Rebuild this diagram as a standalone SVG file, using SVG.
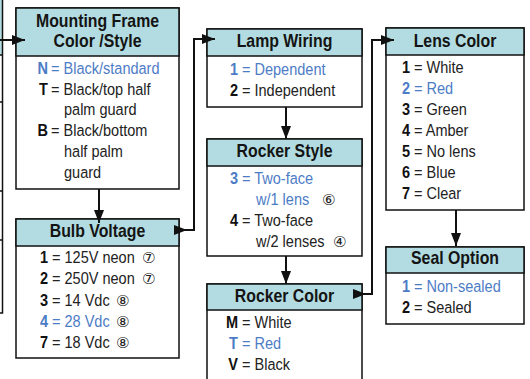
<svg xmlns="http://www.w3.org/2000/svg" width="530" height="379" viewBox="0 0 530 379">
<style>
.box{fill:#fff;stroke:#111;stroke-width:1.5}
.hd{fill:#b2dce1;stroke:#111;stroke-width:1.5}
.h{font:bold 18px "Liberation Sans",Arial,sans-serif;fill:#141414;text-anchor:middle}
.t{font:16.5px "Liberation Sans",Arial,sans-serif;fill:#222}
.k{font-weight:bold;text-anchor:end;fill:#111}
.b{fill:#4d7cc6}
.c{font:15px "DejaVu Sans",sans-serif;fill:#222}
.ln{fill:none;stroke:#111;stroke-width:2}
.thin{fill:none;stroke:#111;stroke-width:1.5}
</style>
<defs>
<marker id="ae" markerUnits="userSpaceOnUse" markerWidth="14" markerHeight="12" refX="13" refY="5" orient="auto"><path d="M0,0 L13,5 L0,10 Z" fill="#111"/></marker>
<marker id="as" markerUnits="userSpaceOnUse" markerWidth="14" markerHeight="12" refX="0" refY="5" orient="auto"><path d="M0,0 L13,5 L0,10 Z" fill="#111"/></marker>
</defs>

<g id="partial-left">
<rect x="0" y="0" width="2.5" height="55" fill="#b2dce1"/>
<path class="thin" d="M2.5,0 V313 H0 M0,55 H2.5 M0,102 H2.5 M0,191 H2.5 M0,240 H2.5"/>
</g>

<g id="mounting-frame">
<rect class="box" x="16" y="8" width="163" height="181"/>
<rect class="hd" x="16" y="8" width="163" height="48"/>
<text class="h" transform="matrix(.88 0 0 1 97.5 27)">Mounting Frame</text>
<text class="h" transform="matrix(.88 0 0 1 97.5 47)">Color /Style</text>
<text class="t k b" transform="matrix(.88 0 0 1 48 74)">N</text>
<text class="t b" transform="matrix(.88 0 0 1 51 74)">= Black/standard</text>
<text class="t k" transform="matrix(.88 0 0 1 48 95)">T</text>
<text class="t" transform="matrix(.88 0 0 1 51 95)">= Black/top half</text>
<text class="t" transform="matrix(.88 0 0 1 64 115)">palm guard</text>
<text class="t k" transform="matrix(.88 0 0 1 48 136)">B</text>
<text class="t" transform="matrix(.88 0 0 1 51 136)">= Black/bottom</text>
<text class="t" transform="matrix(.88 0 0 1 64 157)">half palm</text>
<text class="t" transform="matrix(.88 0 0 1 64 178)">guard</text>
</g>

<g id="bulb-voltage">
<rect class="box" x="16" y="219" width="163" height="139"/>
<rect class="hd" x="16" y="219" width="163" height="27"/>
<text class="h" transform="matrix(.88 0 0 1 97.5 237)">Bulb Voltage</text>
<text class="t k" transform="matrix(.88 0 0 1 48 263)">1</text>
<text class="t" transform="matrix(.88 0 0 1 52 263)">= 125V neon</text>
<text class="c" x="142" y="263">⑦</text>
<text class="t k" transform="matrix(.88 0 0 1 48 284)">2</text>
<text class="t" transform="matrix(.88 0 0 1 52 284)">= 250V neon</text>
<text class="c" x="142" y="284">⑦</text>
<text class="t k" transform="matrix(.88 0 0 1 48 306)">3</text>
<text class="t" transform="matrix(.88 0 0 1 52 306)">= 14 Vdc</text>
<text class="c" x="116" y="306">⑧</text>
<text class="t k b" transform="matrix(.88 0 0 1 48 327)">4</text>
<text class="t b" transform="matrix(.88 0 0 1 52 327)">= 28 Vdc</text>
<text class="c" x="116" y="327">⑧</text>
<text class="t k" transform="matrix(.88 0 0 1 48 348)">7</text>
<text class="t" transform="matrix(.88 0 0 1 52 348)">= 18 Vdc</text>
<text class="c" x="116" y="348">⑧</text>
</g>

<g id="lamp-wiring">
<rect class="box" x="207" y="29" width="155" height="78"/>
<rect class="hd" x="207" y="29" width="155" height="27"/>
<text class="h" transform="matrix(.88 0 0 1 284.5 47)">Lamp Wiring</text>
<text class="t k b" transform="matrix(.88 0 0 1 238 75)">1</text>
<text class="t b" transform="matrix(.88 0 0 1 242 75)">= Dependent</text>
<text class="t k" transform="matrix(.88 0 0 1 238 96)">2</text>
<text class="t" transform="matrix(.88 0 0 1 242 96)">= Independent</text>
</g>

<g id="rocker-style">
<rect class="box" x="207" y="139" width="155" height="117"/>
<rect class="hd" x="207" y="139" width="155" height="27"/>
<text class="h" transform="matrix(.88 0 0 1 284.5 157)">Rocker Style</text>
<text class="t k b" transform="matrix(.88 0 0 1 238 184)">3</text>
<text class="t b" transform="matrix(.88 0 0 1 242 184)">= Two-face</text>
<text class="t b" transform="matrix(.88 0 0 1 256 205)">w/1 lens</text>
<text class="c" x="322" y="205">⑥</text>
<text class="t k" transform="matrix(.88 0 0 1 238 226)">4</text>
<text class="t" transform="matrix(.88 0 0 1 242 226)">= Two-face</text>
<text class="t" transform="matrix(.88 0 0 1 256 247)">w/2 lenses</text>
<text class="c" x="333" y="247">④</text>
</g>

<g id="rocker-color">
<rect class="box" x="207" y="284" width="155" height="100"/>
<rect class="hd" x="207" y="284" width="155" height="26"/>
<text class="h" transform="matrix(.88 0 0 1 284.5 302)">Rocker Color</text>
<text class="t k" transform="matrix(.88 0 0 1 238 328)">M</text>
<text class="t" transform="matrix(.88 0 0 1 242 328)">= White</text>
<text class="t k b" transform="matrix(.88 0 0 1 238 349)">T</text>
<text class="t b" transform="matrix(.88 0 0 1 242 349)">= Red</text>
<text class="t k" transform="matrix(.88 0 0 1 238 370)">V</text>
<text class="t" transform="matrix(.88 0 0 1 242 370)">= Black</text>
</g>

<g id="lens-color">
<rect class="box" x="386" y="28" width="138" height="182"/>
<rect class="hd" x="386" y="28" width="138" height="27"/>
<text class="h" transform="matrix(.88 0 0 1 455 47)">Lens Color</text>
<text class="t k" transform="matrix(.88 0 0 1 410 73)">1</text>
<text class="t" transform="matrix(.88 0 0 1 414 73)">= White</text>
<text class="t k b" transform="matrix(.88 0 0 1 410 94)">2</text>
<text class="t b" transform="matrix(.88 0 0 1 414 94)">= Red</text>
<text class="t k" transform="matrix(.88 0 0 1 410 115)">3</text>
<text class="t" transform="matrix(.88 0 0 1 414 115)">= Green</text>
<text class="t k" transform="matrix(.88 0 0 1 410 136)">4</text>
<text class="t" transform="matrix(.88 0 0 1 414 136)">= Amber</text>
<text class="t k" transform="matrix(.88 0 0 1 410 157)">5</text>
<text class="t" transform="matrix(.88 0 0 1 414 157)">= No lens</text>
<text class="t k" transform="matrix(.88 0 0 1 410 178)">6</text>
<text class="t" transform="matrix(.88 0 0 1 414 178)">= Blue</text>
<text class="t k" transform="matrix(.88 0 0 1 410 199)">7</text>
<text class="t" transform="matrix(.88 0 0 1 414 199)">= Clear</text>
</g>

<g id="seal-option">
<rect class="box" x="386" y="247" width="138" height="77"/>
<rect class="hd" x="386" y="247" width="138" height="26"/>
<text class="h" transform="matrix(.88 0 0 1 455 264)">Seal Option</text>
<text class="t k b" transform="matrix(.88 0 0 1 410 292)">1</text>
<text class="t b" transform="matrix(.88 0 0 1 414 292)">= Non-sealed</text>
<text class="t k" transform="matrix(.88 0 0 1 410 313)">2</text>
<text class="t" transform="matrix(.88 0 0 1 414 313)">= Sealed</text>
</g>

<g id="connectors">
<path class="ln" d="M0,40 H25" marker-end="url(#ae)"/>
<path class="ln" d="M99,189 V223" marker-end="url(#ae)"/>
<path class="ln" d="M174,230 H194 V39 H215" marker-start="url(#as)" marker-end="url(#ae)"/>
<path class="ln" d="M286,107 V139" marker-end="url(#ae)"/>
<path class="ln" d="M286,256 V284" marker-end="url(#ae)"/>
<path class="ln" d="M353,294 H372 V40 H394" marker-start="url(#as)" marker-end="url(#ae)"/>
<path class="ln" d="M456,210 V246" marker-end="url(#ae)"/>
</g>
</svg>
